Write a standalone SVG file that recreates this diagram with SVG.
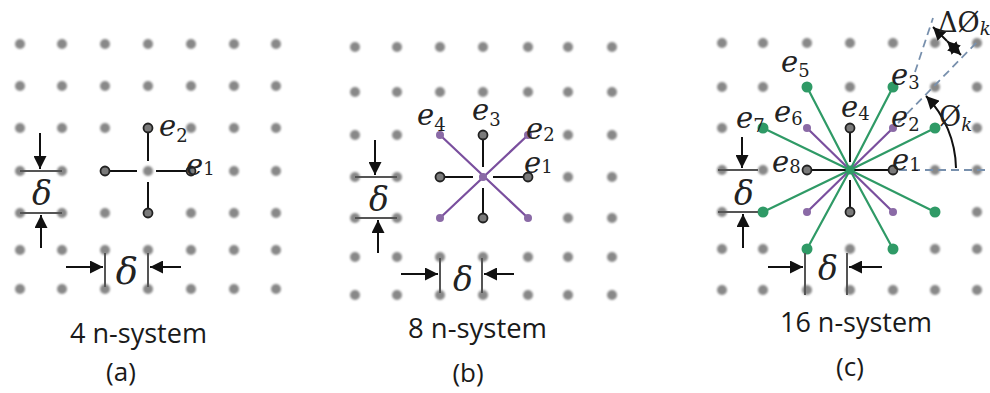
<svg xmlns="http://www.w3.org/2000/svg" width="990" height="393" viewBox="0 0 990 393">
<style>
.dot{fill:#888}
.ep{fill:#7a7a7a;stroke:#222;stroke-width:1.8}
.blk{stroke:#111;stroke-width:2;fill:none}
.pur{stroke:#7a4f9e;stroke-width:2.2;fill:none}
.grn{stroke:#2f9a66;stroke-width:2.2;fill:none}
.gdot{fill:#2f9a66}
.pdot{fill:#8a6aa6}
.brk{stroke:#555;stroke-width:2;fill:none}
.arr{stroke:#111;stroke-width:2;fill:none;marker-end:url(#ah)}
.dash{stroke:#7890ad;stroke-width:1.8;fill:none;stroke-dasharray:8 5}
.lbl{font-family:"DejaVu Serif",serif;font-style:italic;font-size:29px;fill:#222}
.sub{font-style:normal;font-size:18px}
.dl{font-family:"DejaVu Serif",serif;font-style:italic;font-size:33px;fill:#222;text-anchor:middle}
.cap{font-family:"Open Sans",sans-serif;font-size:27px;fill:#1a1a1a}
.tag{font-family:"Open Sans",sans-serif;font-size:26px;fill:#1a1a1a;text-anchor:middle}
</style>
<defs>
<marker id="ah" viewBox="0 0 10 10" refX="10" refY="5" markerWidth="13" markerHeight="13" markerUnits="userSpaceOnUse" orient="auto-start-reverse"><path d="M0,0 L10,5 L0,10 z" fill="#111"/></marker>
<filter id="soft" x="-50%" y="-50%" width="200%" height="200%"><feGaussianBlur stdDeviation="0.8"/></filter>
</defs>

<g id="grid-a" filter="url(#soft)">
<g class="dot">
<circle cx="20" cy="44" r="5"/><circle cx="62" cy="44" r="5"/><circle cx="105" cy="44" r="5"/><circle cx="148" cy="44" r="5"/><circle cx="191" cy="44" r="5"/><circle cx="234" cy="44" r="5"/><circle cx="276" cy="44" r="5"/>
<circle cx="20" cy="86" r="5"/><circle cx="62" cy="86" r="5"/><circle cx="105" cy="86" r="5"/><circle cx="148" cy="86" r="5"/><circle cx="191" cy="86" r="5"/><circle cx="234" cy="86" r="5"/><circle cx="276" cy="86" r="5"/>
<circle cx="20" cy="128" r="5"/><circle cx="62" cy="128" r="5"/><circle cx="105" cy="128" r="5"/><circle cx="191" cy="128" r="5"/><circle cx="234" cy="128" r="5"/><circle cx="276" cy="128" r="5"/>
<circle cx="20" cy="171" r="5"/><circle cx="62" cy="171" r="5"/><circle cx="148" cy="171" r="5"/><circle cx="234" cy="171" r="5"/><circle cx="276" cy="171" r="5"/>
<circle cx="20" cy="213" r="5"/><circle cx="62" cy="213" r="5"/><circle cx="105" cy="213" r="5"/><circle cx="191" cy="213" r="5"/><circle cx="234" cy="213" r="5"/><circle cx="276" cy="213" r="5"/>
<circle cx="20" cy="250" r="5"/><circle cx="62" cy="250" r="5"/><circle cx="105" cy="250" r="5"/><circle cx="148" cy="250" r="5"/><circle cx="191" cy="250" r="5"/><circle cx="234" cy="250" r="5"/><circle cx="276" cy="250" r="5"/>
<circle cx="20" cy="289" r="5"/><circle cx="62" cy="289" r="5"/><circle cx="105" cy="289" r="5"/><circle cx="148" cy="289" r="5"/><circle cx="191" cy="289" r="5"/><circle cx="234" cy="289" r="5"/><circle cx="276" cy="289" r="5"/>
</g>
</g>

<g id="grid-b" filter="url(#soft)">
<g class="dot">
<circle cx="355" cy="47" r="5"/><circle cx="397" cy="47" r="5"/><circle cx="440" cy="47" r="5"/><circle cx="483" cy="47" r="5"/><circle cx="528" cy="47" r="5"/><circle cx="568" cy="47" r="5"/><circle cx="612" cy="47" r="5"/>
<circle cx="355" cy="92" r="5"/><circle cx="397" cy="92" r="5"/><circle cx="440" cy="92" r="5"/><circle cx="483" cy="92" r="5"/><circle cx="528" cy="92" r="5"/><circle cx="568" cy="92" r="5"/><circle cx="612" cy="92" r="5"/>
<circle cx="355" cy="135" r="5"/><circle cx="397" cy="135" r="5"/><circle cx="568" cy="135" r="5"/><circle cx="612" cy="135" r="5"/>
<circle cx="355" cy="177" r="5"/><circle cx="397" cy="177" r="5"/><circle cx="568" cy="177" r="5"/><circle cx="612" cy="177" r="5"/>
<circle cx="355" cy="218" r="5"/><circle cx="397" cy="218" r="5"/><circle cx="568" cy="218" r="5"/><circle cx="612" cy="218" r="5"/>
<circle cx="355" cy="257" r="5"/><circle cx="397" cy="257" r="5"/><circle cx="440" cy="257" r="5"/><circle cx="483" cy="257" r="5"/><circle cx="528" cy="257" r="5"/><circle cx="568" cy="257" r="5"/><circle cx="612" cy="257" r="5"/>
<circle cx="355" cy="295" r="5"/><circle cx="397" cy="295" r="5"/><circle cx="440" cy="295" r="5"/><circle cx="483" cy="295" r="5"/><circle cx="528" cy="295" r="5"/><circle cx="568" cy="295" r="5"/><circle cx="612" cy="295" r="5"/>
</g>
</g>

<g id="grid-c" filter="url(#soft)">
<g class="dot">
<circle cx="722" cy="43" r="5"/><circle cx="763" cy="43" r="5"/><circle cx="807" cy="43" r="5"/><circle cx="850" cy="43" r="5"/><circle cx="893" cy="43" r="5"/><circle cx="935" cy="43" r="5"/><circle cx="977" cy="43" r="5"/>
<circle cx="722" cy="87" r="5"/><circle cx="763" cy="87" r="5"/><circle cx="850" cy="87" r="5"/><circle cx="935" cy="87" r="5"/><circle cx="977" cy="87" r="5"/>
<circle cx="722" cy="128" r="5"/><circle cx="977" cy="128" r="5"/>
<circle cx="722" cy="170" r="5"/><circle cx="763" cy="170" r="5"/><circle cx="935" cy="170" r="5"/><circle cx="977" cy="170" r="5"/>
<circle cx="722" cy="212" r="5"/><circle cx="977" cy="212" r="5"/>
<circle cx="722" cy="249" r="5"/><circle cx="763" cy="249" r="5"/><circle cx="850" cy="249" r="5"/><circle cx="935" cy="249" r="5"/><circle cx="977" cy="249" r="5"/>
<circle cx="722" cy="290" r="5"/><circle cx="763" cy="290" r="5"/><circle cx="807" cy="290" r="5"/><circle cx="850" cy="290" r="5"/><circle cx="893" cy="290" r="5"/><circle cx="935" cy="290" r="5"/><circle cx="977" cy="290" r="5"/>
</g>
</g>

<g id="connectors">
<path class="blk" d="M105,171 H137 M156,171 H191 M148,128 V161 M148,182 V213"/>
<path class="blk" d="M440,177 H473 M493,177 H528 M483,135 V167 M483,188 V218"/>
<path class="pur" d="M440,135 L528,218 M528,135 L440,218"/>
<path class="blk" d="M807,170 H893 M850,128 V162 M850,180 V212"/>
<path class="pur" d="M807,128 L893,212 M893,128 L807,212"/>
<path class="grn" d="M850,170 L807,87 M850,170 L893,87 M850,170 L763,128 M850,170 L935,128 M850,170 L763,212 M850,170 L935,212 M850,170 L807,249 M850,170 L893,249"/>
<path class="dash" d="M899,170 H990 M898,123 L979,40 M915,72 L933,18"/>
<path class="arr" d="M956,168 A106,106 0 0 0 926,96"/>
<line class="arr" x1="947" y1="41" x2="961" y2="55" style="marker-start:url(#ah)"/>
<line class="arr" x1="947" y1="41" x2="933" y2="27"/>
</g>

<g id="node-a">
<circle class="ep" cx="148" cy="128" r="4.5"/><circle class="ep" cx="191" cy="171" r="4.5"/><circle class="ep" cx="105" cy="171" r="4.5"/><circle class="ep" cx="148" cy="213" r="4.5"/>
<text class="lbl" x="159" y="136">e<tspan class="sub" dy="6">2</tspan></text>
<text class="lbl" x="186" y="175">e<tspan class="sub" dy="0">1</tspan></text>
</g>

<g id="node-b">
<circle class="pdot" cx="440" cy="135" r="4"/><circle class="pdot" cx="528" cy="135" r="4"/><circle class="pdot" cx="440" cy="218" r="4"/><circle class="pdot" cx="528" cy="218" r="4"/>
<circle class="pdot" cx="483" cy="177" r="4"/>
<circle class="ep" cx="483" cy="135" r="4.5"/><circle class="ep" cx="528" cy="177" r="4.5"/><circle class="ep" cx="440" cy="177" r="4.5"/><circle class="ep" cx="483" cy="218" r="4.5"/>
<text class="lbl" x="417" y="125">e<tspan class="sub" dy="6">4</tspan></text>
<text class="lbl" x="472" y="120">e<tspan class="sub" dy="6">3</tspan></text>
<text class="lbl" x="526" y="139">e<tspan class="sub" dy="2">2</tspan></text>
<text class="lbl" x="524" y="173">e<tspan class="sub" dy="0">1</tspan></text>
</g>

<g id="node-c">
<circle class="pdot" cx="807" cy="128" r="4"/><circle class="pdot" cx="893" cy="128" r="4"/><circle class="pdot" cx="807" cy="212" r="4"/><circle class="pdot" cx="893" cy="212" r="4"/>
<circle class="ep" cx="850" cy="128" r="4.5"/><circle class="ep" cx="807" cy="170" r="4.5"/><circle class="ep" cx="893" cy="170" r="4.5"/><circle class="ep" cx="850" cy="212" r="4.5"/>
<g class="gdot">
<circle cx="807" cy="87" r="5.5"/><circle cx="893" cy="87" r="5.5"/><circle cx="763" cy="128" r="5.5"/><circle cx="935" cy="128" r="5.5"/><circle cx="763" cy="212" r="5.5"/><circle cx="935" cy="212" r="5.5"/><circle cx="807" cy="249" r="5.5"/><circle cx="893" cy="249" r="5.5"/><circle cx="850" cy="170" r="4.5"/>
</g>
<text class="lbl" x="781" y="72">e<tspan class="sub" dy="5">5</tspan></text>
<text class="lbl" x="891" y="85">e<tspan class="sub" dy="4">3</tspan></text>
<text class="lbl" x="841" y="117">e<tspan class="sub" dy="3">4</tspan></text>
<text class="lbl" x="891" y="127">e<tspan class="sub" dy="4">2</tspan></text>
<text class="lbl" x="774" y="122">e<tspan class="sub" dy="3">6</tspan></text>
<text class="lbl" x="736" y="128">e<tspan class="sub" dy="4">7</tspan></text>
<text class="lbl" x="772" y="172">e<tspan class="sub" dy="1">8</tspan></text>
<text class="lbl" x="892" y="170">e<tspan class="sub" dy="1">1</tspan></text>
<text class="lbl" x="938" y="32" style="font-style:normal;font-size:27px">ΔØ<tspan class="sub" dy="3" style="font-style:italic">k</tspan></text>
<text class="lbl" x="939" y="126" style="font-style:normal;font-size:27px">Ø<tspan class="sub" dy="5" style="font-style:italic">k</tspan></text>
</g>

<g id="delta-a">
<path class="brk" d="M20,171 H62 M20,213 H62 M105,253 V287 M148,253 V287"/>
<line class="arr" x1="40" y1="133" x2="40" y2="169"/>
<line class="arr" x1="41" y1="248" x2="41" y2="215"/>
<line class="arr" x1="66" y1="267" x2="103" y2="267"/>
<line class="arr" x1="181" y1="267" x2="150" y2="267"/>
<text class="dl" x="42" y="205">δ</text>
<text class="dl" x="127" y="284" style="font-size:37px">δ</text>
</g>

<g id="delta-b">
<path class="brk" d="M355,177 H397 M355,218 H397 M440,258 V293 M482,258 V293"/>
<line class="arr" x1="375" y1="140" x2="375" y2="175"/>
<line class="arr" x1="378" y1="253" x2="378" y2="220"/>
<line class="arr" x1="401" y1="274" x2="438" y2="274"/>
<line class="arr" x1="514" y1="274" x2="484" y2="274"/>
<text class="dl" x="379" y="211">δ</text>
<text class="dl" x="463" y="291">δ</text>
</g>

<g id="delta-c">
<path class="brk" d="M718,170 H758 M718,212 H758 M805,253 V295 M847,253 V295"/>
<line class="arr" x1="742" y1="137" x2="742" y2="168"/>
<line class="arr" x1="743" y1="248" x2="743" y2="214"/>
<line class="arr" x1="768" y1="267" x2="803" y2="267"/>
<line class="arr" x1="882" y1="267" x2="849" y2="267"/>
<text class="dl" x="744" y="205">δ</text>
<text class="dl" x="828" y="280">δ</text>
</g>

<g id="captions">
<text class="cap" x="70" y="343" textLength="137" lengthAdjust="spacingAndGlyphs">4 n-system</text>
<text class="tag" x="121" y="381">(a)</text>
<text class="cap" x="408" y="338" textLength="139" lengthAdjust="spacingAndGlyphs">8 n-system</text>
<text class="tag" x="468" y="382">(b)</text>
<text class="cap" x="780" y="332" textLength="152" lengthAdjust="spacingAndGlyphs">16 n-system</text>
<text class="tag" x="850" y="376">(c)</text>
</g>
</svg>
